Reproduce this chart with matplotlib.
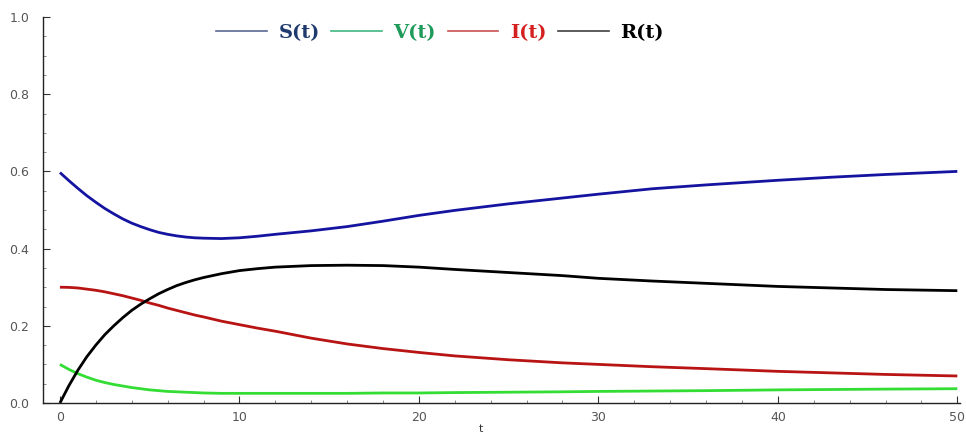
import matplotlib
matplotlib.use("Agg")
import matplotlib.pyplot as plt
from matplotlib.lines import Line2D
from matplotlib.ticker import MultipleLocator, FormatStrFormatter

t = [0, 0.5, 1, 1.5, 2, 2.5, 3, 3.5, 4, 4.5, 5, 5.5, 6, 6.5, 7, 7.5, 8, 9, 10, 11, 12,
     14, 16, 18, 20, 22, 25, 28, 30, 33, 36, 40, 43, 46, 50]
S = [0.597, 0.576, 0.556, 0.537, 0.520, 0.504, 0.490, 0.477, 0.466, 0.457, 0.449,
     0.442, 0.437, 0.433, 0.430, 0.428, 0.427, 0.426, 0.428, 0.432, 0.437,
     0.446, 0.457, 0.471, 0.486, 0.499, 0.516, 0.531, 0.541,
     0.555, 0.565, 0.577, 0.585, 0.592, 0.600]
V = [0.100, 0.087, 0.076, 0.067, 0.059, 0.053, 0.048, 0.044, 0.040, 0.037, 0.034,
     0.032, 0.030, 0.029, 0.028, 0.027, 0.026, 0.025, 0.025, 0.025, 0.025,
     0.025, 0.025, 0.026, 0.026, 0.027, 0.028, 0.029, 0.030,
     0.031, 0.032, 0.034, 0.035, 0.036, 0.037]
I = [0.300, 0.2995, 0.298, 0.295, 0.292, 0.288, 0.283, 0.278, 0.272, 0.266, 0.259,
     0.253, 0.246, 0.240, 0.234, 0.228, 0.223, 0.212, 0.203, 0.194, 0.186,
     0.168, 0.153, 0.141, 0.131, 0.122, 0.112, 0.104, 0.100,
     0.094, 0.089, 0.082, 0.078, 0.074, 0.070]
R = [0.000, 0.045, 0.085, 0.120, 0.150, 0.177, 0.200, 0.221, 0.240, 0.256, 0.270,
     0.283, 0.294, 0.304, 0.312, 0.319, 0.325, 0.335, 0.343, 0.348, 0.352,
     0.356, 0.357, 0.356, 0.352, 0.346, 0.338, 0.330, 0.323,
     0.316, 0.310, 0.302, 0.298, 0.294, 0.291]

labels = ["S(t)", "V(t)", "I(t)", "R(t)"]
curve_colors = ["#1414a0", "#33dd33", "#b81414", "#000000"]
legend_line_colors = ["#5a6a95", "#40b880", "#c85050", "#404040"]
legend_text_colors = ["#1f3a6e", "#1e9a5a", "#d42020", "#000000"]

fig = plt.figure(figsize=(9.66, 4.38), dpi=100)
ax = fig.add_axes([43 / 966, 1 - 403 / 438, (960 - 43) / 966, (403 - 17) / 438])

for y, c in zip([S, V, I, R], curve_colors):
    ax.plot(t, y, color=c, lw=2.0, solid_capstyle="butt", solid_joinstyle="round")

ax.set_xlim(-0.944, 50.15)
ax.set_ylim(0, 1.0)

for side in ["top", "right"]:
    ax.spines[side].set_visible(False)
for side in ["left", "bottom"]:
    ax.spines[side].set_linewidth(1.0)
    ax.spines[side].set_color("#222222")

ax.xaxis.set_major_locator(MultipleLocator(10))
ax.xaxis.set_minor_locator(MultipleLocator(2))
ax.yaxis.set_major_locator(MultipleLocator(0.2))
ax.yaxis.set_minor_locator(MultipleLocator(0.05))
ax.yaxis.set_major_formatter(FormatStrFormatter("%.1f"))
ax.tick_params(which="major", direction="in", length=5, width=0.8, color="#333333",
               labelsize=9, labelcolor="#555555")
ax.tick_params(which="minor", direction="in", length=2.5, width=0.6, color="#777777")
ax.tick_params(axis="y", pad=10)
ax.tick_params(axis="x", pad=6)

ax.set_xlabel("t", fontsize=8, color="#333333")
ax.xaxis.set_label_coords((480 - 43) / (958 - 43), -0.055)

handles = [Line2D([0], [0], color=c, lw=1.2) for c in legend_line_colors]
leg = ax.legend(handles, labels, loc="center", bbox_to_anchor=((440 - 43) / 917, (403 - 33) / 386),
                ncol=4, frameon=False, handlelength=2.6, handletextpad=0.6,
                columnspacing=0.6, prop={"family": "DejaVu Serif", "weight": "heavy", "size": 14})
for txt, c in zip(leg.get_texts(), legend_text_colors):
    txt.set_color(c)

fig.savefig("out.png", dpi=100)
